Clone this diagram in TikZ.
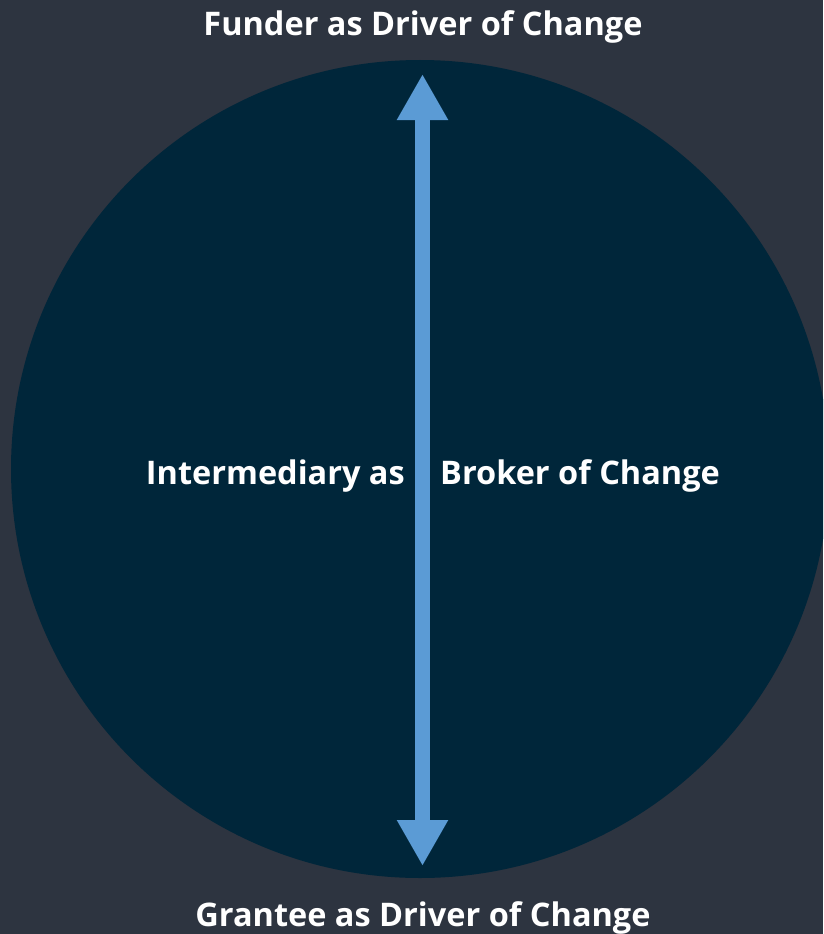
\documentclass[tikz,border=0pt]{standalone}
\usepackage{fontspec}
\setmainfont{Open Sans}
\usetikzlibrary{arrows.meta}
\definecolor{bgcol}{HTML}{2D3440}
\definecolor{ballcol}{HTML}{00263A}
\definecolor{arrcol}{HTML}{5B9BD5}
\tikzset{
  label/.style={text=white, font=\bfseries\fontsize{32.5}{39}\selectfont, inner sep=0pt},
  spine/.style={draw=arrcol, line width=15.5pt,
    {Triangle[width=48pt,length=46pt]}-{Triangle[width=48pt,length=46pt]}}
}
\begin{document}
\begin{tikzpicture}[x=1pt, y=-1pt]

  \useasboundingbox[fill=bgcol] (0, 0) rectangle (823, 934);
  \clip (0, 0) rectangle (823, 934);

  \newcommand\R{409};

  \fill[ballcol] (420, 469) circle (\R);

  \coordinate (top) at (422.5, 74);
  \coordinate (bot) at (422.5, 866);
  \draw[spine] (bot) -- (top); %% funder <-> grantee

  \node[label, anchor=base] (funder) at (423, 36) {Funder as Driver of Change};
  \node[label, anchor=base east] (inter) at (405, 484) {Intermediary as};
  \node[label, anchor=base west] (broker) at (440, 484) {Broker of Change};
  \node[label, anchor=base] (grantee) at (423, 926) {Grantee as Driver of Change};
\end{tikzpicture}
\end{document}
